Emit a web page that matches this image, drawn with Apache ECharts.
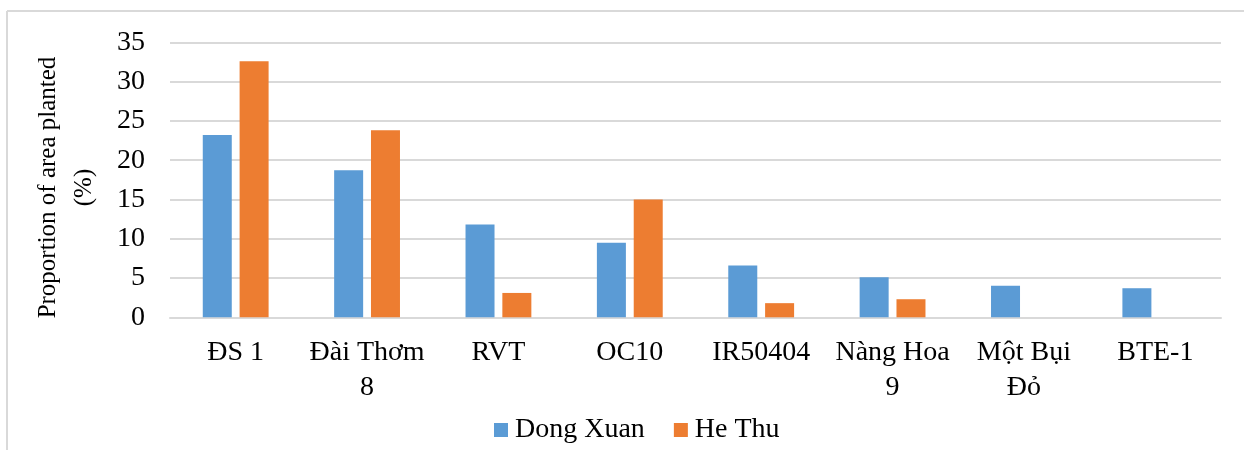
<!DOCTYPE html>
<html>
<head>
<meta charset="utf-8">
<script src="https://cdn.jsdelivr.net/npm/echarts@6/dist/echarts.min.js"></script>
<style>
  html, body { margin: 0; padding: 0; background: #fff; }
  #chart { width: 1244px; height: 450px; }
</style>
</head>
<body>
<div id="chart"></div>
<script>
// Rice varieties and share of planted area per season (%)
const categories = ['ĐS 1', 'Đài Thơm\n8', 'RVT', 'OC10', 'IR50404', 'Nàng Hoa\n9', 'Một Bụi\nĐỏ', 'BTE-1'];
const dongXuan = [23.2, 18.7, 11.8, 9.5, 6.6, 5.1, 4.0, 3.7];
const heThu = [32.6, 23.8, 3.1, 15.0, 1.8, 2.3, 0, 0];
const yTicks = { min: 0, max: 35, interval: 5 };
const yTitle = 'Proportion of area planted\n(%)';

const FONT = '"Liberation Serif", "Times New Roman", serif';
const GRID_COLOR = '#d9d9d9';

const chart = echarts.init(document.getElementById('chart'), null, { renderer: 'canvas' });

chart.setOption({
  animation: false,
  backgroundColor: '#ffffff',
  textStyle: { fontFamily: FONT, color: '#000' },
  grid: { left: 170, right: 23, top: 42.3, bottom: 132.7, containLabel: false },
  legend: {
    left: 489,
    top: 411,
    itemWidth: 14,
    itemHeight: 14,
    itemGap: 29,
    icon: 'rect',
    textStyle: { fontFamily: FONT, fontSize: 28, lineHeight: 28, color: '#000', padding: [0, 0, 0, 2] },
    data: ['Dong Xuan', 'He Thu']
  },
  xAxis: {
    type: 'category',
    data: categories,
    axisLine: { show: true, lineStyle: { color: GRID_COLOR, width: 2 } },
    axisTick: { show: false },
    axisLabel: {
      interval: 0,
      margin: 18,
      fontFamily: FONT,
      fontSize: 28,
      lineHeight: 35,
      color: '#000'
    }
  },
  yAxis: {
    type: 'value',
    min: yTicks.min,
    max: yTicks.max,
    interval: yTicks.interval,
    axisLine: { show: false },
    axisTick: { show: false },
    axisLabel: { margin: 25, fontFamily: FONT, fontSize: 28, color: '#000' },
    splitLine: { show: true, lineStyle: { color: GRID_COLOR, width: 2 } }
  },
  series: [
    {
      name: 'Dong Xuan',
      type: 'bar',
      data: dongXuan,
      barWidth: 29,
      barGap: '27%',
      itemStyle: { color: '#5B9BD5' }
    },
    {
      name: 'He Thu',
      type: 'bar',
      data: heThu,
      barWidth: 29,
      barGap: '27%',
      itemStyle: { color: '#ED7D31' }
    }
  ],
  graphic: [
    // value-axis title, rotated to read bottom-to-top
    {
      type: 'text',
      x: 66,
      y: 187.5,
      rotation: Math.PI / 2,
      silent: true,
      style: {
        text: yTitle,
        fontFamily: FONT,
        fontSize: 25,
        lineHeight: 36,
        fill: '#000',
        align: 'center',
        verticalAlign: 'middle'
      }
    },
    // chart area frame (top and left edges)
    { type: 'line', shape: { x1: 7, y1: 11, x2: 1244, y2: 11 }, style: { stroke: GRID_COLOR, lineWidth: 2 }, silent: true },
    { type: 'line', shape: { x1: 7, y1: 11, x2: 7, y2: 450 }, style: { stroke: GRID_COLOR, lineWidth: 2 }, silent: true }
  ]
});
</script>
</body>
</html>
